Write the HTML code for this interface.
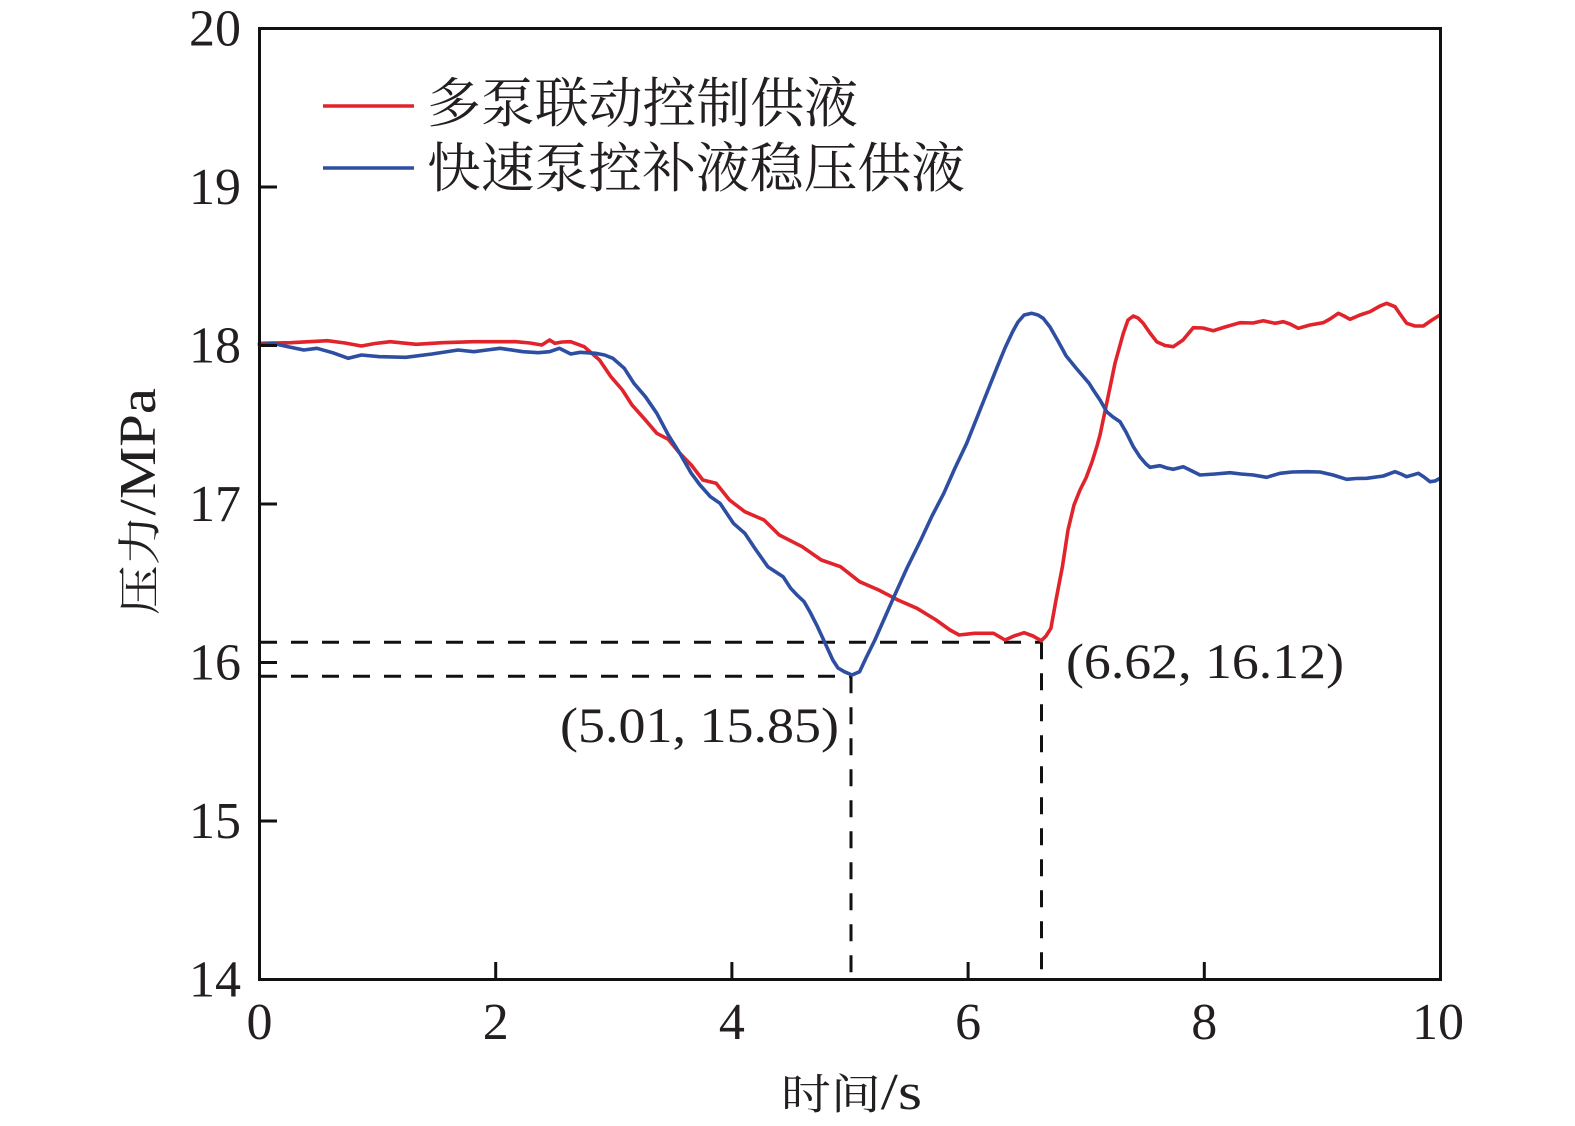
<!DOCTYPE html>
<html>
<head>
<meta charset="utf-8">
<style>
html,body{margin:0;padding:0;background:#fff;}
svg{display:block;}
text{font-family:"Liberation Serif","Noto Serif CJK SC",serif;fill:#231f20;}
.cjk{font-family:"Noto Serif CJK SC","Liberation Serif",serif;}
</style>
</head>
<body>
<svg width="1575" height="1126" viewBox="0 0 1575 1126" xmlns="http://www.w3.org/2000/svg">
<rect x="0" y="0" width="1575" height="1126" fill="#fff"/>

<!-- dashed guide lines -->
<g stroke="#111" stroke-width="3" stroke-dasharray="17 14" fill="none">
  <line x1="260" y1="642.3" x2="1041.5" y2="642.3"/>
  <line x1="260" y1="676.3" x2="851" y2="676.3"/>
  <line x1="851" y1="676.3" x2="851" y2="979"/>
  <line x1="1041.5" y1="642.3" x2="1041.5" y2="979"/>
</g>

<!-- red curve -->
<polyline fill="none" stroke="#e1242b" stroke-width="3.6" stroke-linejoin="round" stroke-linecap="round" points="
259.4,343.3 290.8,342.7 327.4,340.7 345,343 361.4,346 375,343.5 390.1,341.7 416.3,344.3 442.4,342.7 473.8,341.7 500,341.7 515.6,341.7 530,343 541.8,345 549.6,340 554.9,343.3 562,342 570.6,341.7 584.2,346.7 599.5,360 610.9,376.7 622.4,390 632,405 645.4,420 656.8,433.3 668.3,439.3 679.8,453.3 691.3,465 702.8,480 716.1,483.3 729.5,500 744.8,511.7 764,520 779.3,535 802.2,546.7 821.3,560 840.5,566.7 859.6,581.7 878.7,590 897.9,600 917,608.3 936.1,620 950,630 959.1,635 974.4,633.3 993.5,633.3 1005,640 1014,636 1024.1,632.7 1033,636 1041.3,640.7 1046,636 1050.9,628.3 1056,600 1062.4,566.7 1068,530 1074,505 1080,490 1086,478 1092,462 1097,446 1100,435 1106.7,403.3 1115,363.3 1123.3,333.3 1128,320 1133.3,316 1138,318 1143,323 1150,333 1156.7,341.7 1165,345.5 1173.3,346.7 1183,340 1193.3,327.7 1203,328 1213.3,330.7 1225,327 1240,322.7 1253,323 1263.3,320.7 1275,323.3 1283.3,321.7 1290,324 1298.3,328.3 1310,325 1323.3,322.7 1330,319 1338.3,313.3 1344,316 1350,319.3 1360,315 1370,311.7 1380,306 1386.7,303.3 1395,306.7 1400,314 1406.7,323.3 1415,326 1423.3,326 1432,320 1440,315"/>

<!-- blue curve -->
<polyline fill="none" stroke="#2d4ea1" stroke-width="3.6" stroke-linejoin="round" stroke-linecap="round" points="
259.4,345 272.4,343.3 288.1,346.7 303.8,350 316.9,348.3 332.6,352.7 348.3,358.3 361.4,355 379.7,356.7 405.9,357.3 432,354 458.1,350 473.8,351.7 487,350 500,348.3 523,351.7 538.3,352.7 549.6,351.7 559.3,348.3 570.8,354 580.3,352.3 595.6,353.3 604.6,355 612.9,358.3 624.3,368.3 633.9,383.3 645.4,396.7 656.8,413.3 668.3,435 679.8,453.3 691.3,473.3 700,485 710.4,496.7 720,503.3 733.4,523.3 744.8,533.3 756,550 767.8,566.7 783.1,576.7 790.7,588.3 797,595 804.1,601.7 810,612 817.5,626.7 825,643 832.8,660 838,668 844.3,671.7 852,675 859.6,671.7 866,658 874.9,640 894,596.7 907,568 920.8,540 932,516 943.8,493.3 955,468 966.7,443.3 982,405 997.3,366.7 1005,348 1012.6,331.7 1018,322 1024.1,315 1031.8,313.3 1038,315 1043.2,318.3 1050,327 1058,341 1066.2,356 1076,368 1089.1,383.3 1093.3,390 1100,400 1106.7,411.7 1113,417 1120,421.7 1126,432 1133.3,446.7 1140,457 1146,464 1150,467.3 1160,465.7 1167,468 1173.3,469.3 1183.3,466.7 1190,470 1200,475 1215,474 1230,472.7 1241,474 1253.3,475 1266.7,477.3 1280,473.3 1292,472 1306.7,471.7 1320,472 1333,475 1346.7,479.3 1356,478.5 1366.7,478.3 1383.3,476 1395,471.7 1401,474 1406.7,476.7 1418.3,473.3 1424,477 1430,481.7 1435,481 1440,478.3"/>

<!-- frame -->
<rect x="259.5" y="28.5" width="1181" height="951" fill="none" stroke="#111" stroke-width="3"/>

<!-- y ticks -->
<g stroke="#111" stroke-width="3">
  <line x1="259.5" y1="187" x2="277" y2="187"/>
  <line x1="259.5" y1="345.5" x2="277" y2="345.5"/>
  <line x1="259.5" y1="504" x2="277" y2="504"/>
  <line x1="259.5" y1="662.5" x2="277" y2="662.5"/>
  <line x1="259.5" y1="821" x2="277" y2="821"/>
  <!-- x ticks -->
  <line x1="495.7" y1="979.5" x2="495.7" y2="962"/>
  <line x1="731.9" y1="979.5" x2="731.9" y2="962"/>
  <line x1="968.1" y1="979.5" x2="968.1" y2="962"/>
  <line x1="1204.3" y1="979.5" x2="1204.3" y2="962"/>
</g>

<!-- y tick labels -->
<g font-size="52" text-anchor="end">
  <text x="241" y="45.5">20</text>
  <text x="241" y="204">19</text>
  <text x="241" y="362.5">18</text>
  <text x="241" y="521">17</text>
  <text x="241" y="679.5">16</text>
  <text x="241" y="838">15</text>
  <text x="241" y="996.5">14</text>
</g>

<!-- x tick labels -->
<g font-size="52" text-anchor="middle">
  <text x="259.5" y="1039">0</text>
  <text x="495.7" y="1039">2</text>
  <text x="731.9" y="1039">4</text>
  <text x="968.1" y="1039">6</text>
  <text x="1204.3" y="1039">8</text>
  <text x="1438" y="1039">10</text>
</g>

<!-- axis titles -->
<text x="781" y="1109" textLength="141" lengthAdjust="spacingAndGlyphs"><tspan class="cjk" font-size="42">时间</tspan><tspan font-size="52">/s</tspan></text>
<g transform="translate(155,615) rotate(-90)">
  <text x="0" y="0" textLength="227" lengthAdjust="spacingAndGlyphs"><tspan class="cjk" font-size="44">压力</tspan><tspan font-size="52">/MPa</tspan></text>
</g>

<!-- legend -->
<line x1="323" y1="106" x2="414" y2="106" stroke="#e1242b" stroke-width="3.6"/>
<line x1="323" y1="168" x2="414" y2="168" stroke="#2d4ea1" stroke-width="3.6"/>
<text class="cjk" x="427" y="122" font-size="54" textLength="431" lengthAdjust="spacingAndGlyphs">多泵联动控制供液</text>
<text class="cjk" x="427" y="187" font-size="54" textLength="538" lengthAdjust="spacingAndGlyphs">快速泵控补液稳压供液</text>

<!-- annotations -->
<text x="560" y="742" font-size="50" textLength="279" lengthAdjust="spacingAndGlyphs">(5.01, 15.85)</text>
<text x="1066" y="678" font-size="50" textLength="278" lengthAdjust="spacingAndGlyphs">(6.62, 16.12)</text>
</svg>
</body>
</html>
